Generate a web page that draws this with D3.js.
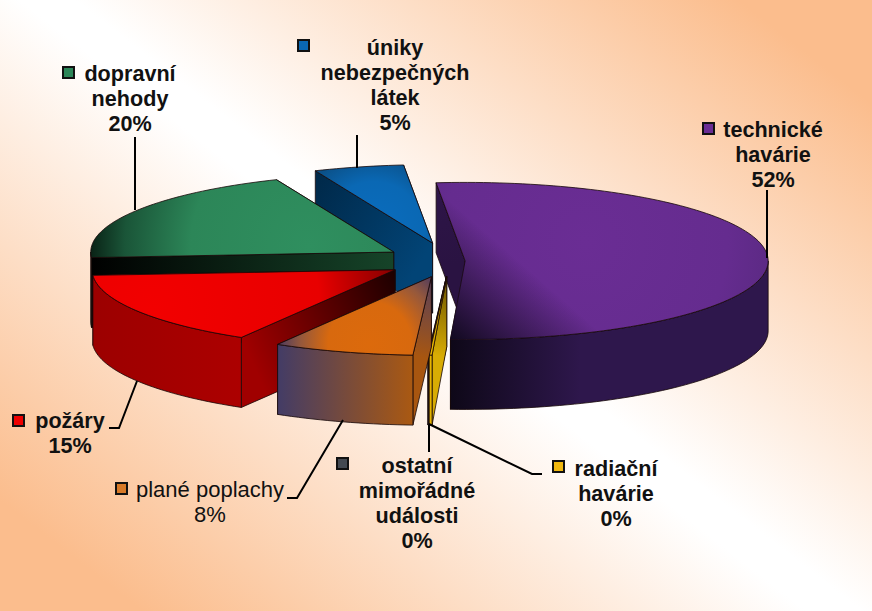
<!DOCTYPE html>
<html><head><meta charset="utf-8">
<script src="https://cdn.jsdelivr.net/npm/d3@7"></script>
<style>html,body{margin:0;padding:0;background:#fff}svg{display:block}text{font-family:"Liberation Sans",Arial,sans-serif;fill:#111}</style>
</head><body><svg id="c" width="872" height="611"></svg>
<script>
const categories = ["technické havárie","radiační havárie","ostatní mimořádné události","plané poplachy","požáry","dopravní nehody","úniky nebezpečných látek"];
const shares = [52.3,0.15,0.05,7.5,15.4,19.8,4.8];
const explode = [0.05,0.2,0.2,0.21,0.213,0.218,0.235];

const W=872,H=611, C={x:450,y:261}, RX=303, RY=78.5, DEPTH=70;
const svg=d3.select("#c"), defs=svg.append("defs");

// styling per slice
const styles=[
 {top:[["0","#6a2d94"],["0.55","#652c8f"],["0.85","#55287c"],["1","#44215f"]],topC:[0.45,0.38,0.78],
  shade:[520,262,452,340,"#120a20"],
  wall:["#0e0818","#2e174c"],start:["#2e1548","#2a1342"],key:"#6a2d94"},
 {top:[["0","#e6b400"],["1","#e6b400"]],topC:[.5,.5,.7],wall:["#e6b400","#e6b400"],start:["#d8ac04","#6a5400"],key:"#f0b810"},
 {top:[["0","#555"],["1","#333"]],topC:[.5,.5,.7],wall:["#444","#444"],start:["#444","#444"],key:"#444a52"},
 {top:[["0","#dc6a0c"],["0.45","#d8690e"],["0.75","#95583c"],["1","#4a3a60"]],topC:[0.6,0.85,0.6],
  wall:["#433c66","#aa5912"],start:["#a85610","#55405e"],key:"#d87a28"},
 {top:[["0","#f20000"],["0.55","#e80000"],["0.78","#900000"],["1","#2a0000"]],topC:[0.2,0.55,1.0],
  wall:["#9c0000","#ac0000"],start:["#a00000","#1c0000"],key:"#ee0000"},
 {top:[["0","#2f8f5f"],["0.5","#2c8658"],["0.78","#1a5538"],["1","#010804"]],topC:[0.72,0.85,0.78],
  wall:["#000","#184a30"],start:["#000000","#164429"],key:"#2c8658"},
 {top:[["0","#0a6dbf"],["0.5","#0a68b4"],["1","#0b3f68"]],topC:[0.5,0.85,0.85],
  wall:["#003058","#003058"],start:["#002848","#024476"],key:"#0a68b4"}
];

// background
const bg=defs.append("linearGradient").attr("id","bg").attr("gradientUnits","userSpaceOnUse")
 .attr("x1",180).attr("y1",640).attr("x2",700).attr("y2",-30);
[[0,"#fbbd8d"],[.48,"#ffffff"],[.52,"#ffffff"],[1,"#fbbd8d"]].forEach(s=>bg.append("stop").attr("offset",s[0]).attr("stop-color",s[1]));
svg.append("rect").attr("width",W).attr("height",H).attr("fill","url(#bg)");

const deg=Math.PI/180;
const pie=d3.pie().sort(null).startAngle(-5.5*deg).endAngle(354.5*deg).value(d=>d);
const arcs=pie(shares).map((a,i)=>{
  const m=(a.startAngle+a.endAngle)/2;
  return {...a,i,cx:C.x+explode[i]*RX*Math.sin(m),cy:C.y-explode[i]*RY*Math.cos(m)};
});
const px=(a,t)=>[a.cx+RX*Math.sin(t),a.cy-RY*Math.cos(t)];
const line=d3.line();
const sample=(t0,t1)=>{const n=Math.max(2,Math.ceil(Math.abs(t1-t0)/(1.5*deg)));return d3.range(n+1).map(k=>t0+(t1-t0)*k/n)};

function lin(id,c0,c1,x1,y1,x2,y2,o0=1,o1=1){
  const g=defs.append("linearGradient").attr("id",id).attr("gradientUnits","userSpaceOnUse")
   .attr("x1",x1).attr("y1",y1).attr("x2",x2).attr("y2",y2);
  g.append("stop").attr("offset",0).attr("stop-color",c0).attr("stop-opacity",o0);
  g.append("stop").attr("offset",1).attr("stop-color",c1).attr("stop-opacity",o1);
  return `url(#${id})`;
}
const OUT="#160808", SW=0.8;
const order=arcs.slice().sort((a,b)=>a.cy-b.cy);
const g=svg.append("g");
order.forEach(a=>{
  const s=styles[a.i], t0=a.startAngle, t1=a.endAngle;
  const sl=g.append("g");
  const P0=px(a,t0), P1=px(a,t1);
  const wallPts=(p)=>[[a.cx,a.cy],p,[p[0],p[1]+DEPTH],[a.cx,a.cy+DEPTH]];
  sl.append("path").attr("d",line(wallPts(P1))+"Z")
    .attr("fill",lin("e"+a.i,s.start[0],s.start[1],P1[0],P1[1],a.cx,a.cy)).attr("stroke",OUT).attr("stroke-width",SW);
  sl.append("path").attr("d",line(wallPts(P0))+"Z")
    .attr("fill",lin("s"+a.i,s.start[0],s.start[1],P0[0],P0[1],a.cx,a.cy)).attr("stroke",OUT).attr("stroke-width",SW);
  const f0=Math.max(t0,90*deg), f1=Math.min(t1,270*deg);
  if(f1>f0){
    const top=sample(f0,f1).map(t=>px(a,t));
    const bot=top.slice().reverse().map(p=>[p[0],p[1]+DEPTH]);
    const xs=top.map(p=>p[0]);
    sl.append("path").attr("d",line(top.concat(bot))+"Z")
      .attr("fill",lin("o"+a.i,s.wall[0],s.wall[1],d3.min(xs),0,d3.min(xs)+Math.min(d3.max(xs)-d3.min(xs),a.i===0?130:9999),0))
      .attr("stroke",OUT).attr("stroke-width",SW);
  }
  const pts=[[a.cx,a.cy]].concat(sample(t0,t1).map(t=>px(a,t)));
  const x0=d3.min(pts,p=>p[0]),x1=d3.max(pts,p=>p[0]),y0=d3.min(pts,p=>p[1]),y1=d3.max(pts,p=>p[1]);
  const r=defs.append("radialGradient").attr("id","t"+a.i).attr("gradientUnits","userSpaceOnUse")
    .attr("cx",x0+s.topC[0]*(x1-x0)).attr("cy",y0+s.topC[1]*(y1-y0)).attr("r",s.topC[2]*Math.max(x1-x0,y1-y0));
  s.top.forEach(st=>r.append("stop").attr("offset",st[0]).attr("stop-color",st[1]));
  const d=line(pts)+"Z";
  sl.append("path").attr("d",d).attr("fill",`url(#t${a.i})`).attr("stroke",OUT).attr("stroke-width",SW).attr("stroke-linejoin","round");
  if(s.shade){
    const q=s.shade;
    sl.append("path").attr("d",d).attr("fill",lin("h"+a.i,q[4],q[4],q[0],q[1],q[2],q[3],0,1));
  }
});

// labels
const labelLines=[["technické","havárie"],["radiační","havárie"],["ostatní","mimořádné","události"],["plané poplachy"],["požáry"],["dopravní","nehody"],["úniky","nebezpečných","látek"]];
const labelPos=[[773,137],[616,476],[417,473],[210,497],[70,428],[130,81],[395,55]];
const keyPos=[[703,123],[553,461],[337,458],[116,483],[13,415],[63,67],[298,40]];
const leaders=[[[767,190],[767,258]],[[429,424],[532,474],[542,474]],[[429,425],[429,452]],[[287,498],[297,498],[343,420]],[[109,428],[119,428],[137,381]],[[135,137],[135,210]],[[357,135],[357,168]]];
const pct=d3.format(".0f");
leaders.forEach(l=>svg.append("path").attr("d",line(l)).attr("fill","none").attr("stroke","#000").attr("stroke-width",2));
categories.forEach((c,i)=>{
  const lines=labelLines[i].concat(pct(shares[i])+"%");
  const t=svg.append("text").attr("text-anchor","middle").attr("font-size",i===3?22:21.6)
    .attr("font-weight",i===3?"normal":"bold");
  lines.forEach((l,k)=>t.append("tspan").attr("x",labelPos[i][0]).attr("y",labelPos[i][1]+k*25).text(l));
  const ky=keyPos[i];
  svg.append("rect").attr("x",ky[0]).attr("y",ky[1]).attr("width",11).attr("height",11)
    .attr("fill",styles[i].key).attr("stroke","#111").attr("stroke-width",2);
});
</script></body></html>
